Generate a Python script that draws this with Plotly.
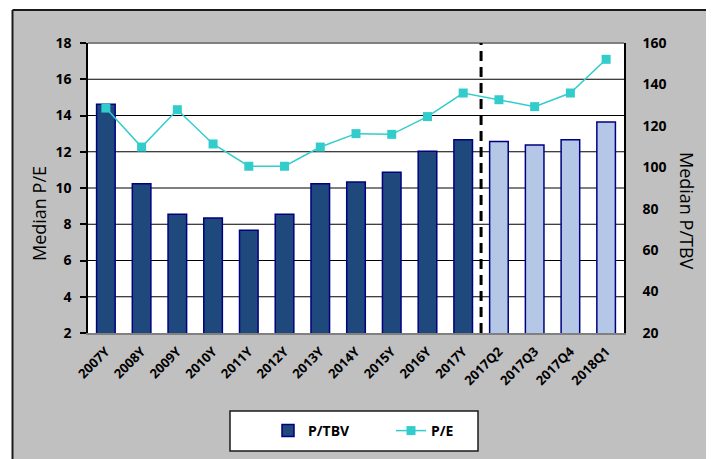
import plotly.graph_objects as go

categories = ["2007Y", "2008Y", "2009Y", "2010Y", "2011Y", "2012Y", "2013Y", "2014Y",
              "2015Y", "2016Y", "2017Y", "2017Q2", "2017Q3", "2017Q4", "2018Q1"]
p_tbv = [130.4, 92.1, 77.3, 75.5, 69.6, 77.3, 92.1, 92.9, 97.6, 107.7, 113.3, 112.4, 110.8, 113.3, 121.9]
p_e = [14.41, 12.26, 14.32, 12.43, 11.2, 11.2, 12.26, 13.0, 12.96, 13.94, 15.24, 14.87, 14.49, 15.24, 17.1]

left_range = [2, 18]
right_range = [20, 160]
left_ticks = [2, 4, 6, 8, 10, 12, 14, 16, 18]
right_ticks = [20, 40, 60, 80, 100, 120, 140, 160]

DARK = "#1F497D"
LIGHT = "#B4C7E7"
bar_colors = [LIGHT if "Q" in c else DARK for c in categories]

FONT = "Open Sans"

# category positions on a linear axis (labels come from the categories list)
x_idx = list(range(len(categories)))
x_range = [-0.5, len(categories) - 0.5]

fig = go.Figure()
# grid lines at the left (P/E) ticks, drawn on the main subplot beneath the bars
grid_x = []
grid_y = []
for v in left_ticks[1:-1]:
    grid_x += [x_range[0], x_range[1], None]
    grid_y += [v, v, None]
fig.add_trace(go.Scatter(
    x=grid_x, y=grid_y, xaxis="x", yaxis="y", mode="lines",
    line=dict(color="black", width=1.2), showlegend=False, hoverinfo="skip",
))
fig.add_trace(go.Bar(
    x=x_idx, y=p_tbv, name="P/TBV", xaxis="x", yaxis="y2",
    marker=dict(color=bar_colors, line=dict(color="#000080", width=1.5)),
    width=0.52, customdata=categories,
))
fig.add_trace(go.Scatter(
    x=x_idx, y=p_e, name="P/E", xaxis="x", yaxis="y3", mode="lines+markers",
    line=dict(color="#33CCCC", width=1.5),
    marker=dict(symbol="square", size=9, color="#33CCCC"),
    customdata=categories,
))

# page-pixel helpers (plot area spans page x 88..624, y 43..333)
def px_x(px):
    return (px - 88) / 536

def px_y(py):
    return (333 - py) / 290

WHITE = "white"
shapes = [
    # white strips outside the grey chart frame
    dict(type="rect", xref="paper", yref="paper", x0=px_x(-20), x1=px_x(12.5), y0=px_y(500), y1=px_y(-20),
         fillcolor=WHITE, line=dict(width=0), layer="above"),
    dict(type="rect", xref="paper", yref="paper", x0=px_x(709), x1=px_x(740), y0=px_y(500), y1=px_y(-20),
         fillcolor=WHITE, line=dict(width=0), layer="above"),
    dict(type="rect", xref="paper", yref="paper", x0=px_x(-20), x1=px_x(740), y0=px_y(10), y1=px_y(-20),
         fillcolor=WHITE, line=dict(width=0), layer="above"),
    # frame lines
    dict(type="line", xref="paper", yref="paper", x0=px_x(12.5), x1=px_x(12.5), y0=px_y(500), y1=px_y(10),
         line=dict(color="#1a1a1a", width=2), layer="above"),
    dict(type="line", xref="paper", yref="paper", x0=px_x(709), x1=px_x(709), y0=px_y(500), y1=px_y(10),
         line=dict(color="#1a1a1a", width=2), layer="above"),
    dict(type="line", xref="paper", yref="paper", x0=px_x(12.5), x1=px_x(709), y0=px_y(10), y1=px_y(10),
         line=dict(color="#1a1a1a", width=2), layer="above"),
    # legend box
    dict(type="rect", xref="paper", yref="paper", x0=px_x(230), x1=px_x(478), y0=px_y(451), y1=px_y(411),
         fillcolor=WHITE, line=dict(color="#1a1a1a", width=1.5), layer="above"),
    # top border of plot area
    dict(type="line", xref="paper", yref="paper", x0=0, x1=1, y0=1, y1=1,
         line=dict(color="#808080", width=2), layer="above"),
    # divider between annual and quarterly data
    dict(type="line", xref="x", yref="paper", x0=10.5, x1=10.5, y0=0, y1=1,
         line=dict(color="black", width=3, dash="10px,6px"), layer="above"),
]

annotations = [
    dict(text="Median P/E", xref="paper", yref="paper", x=px_x(39), y=px_y(214), showarrow=False,
         textangle=-90, font=dict(family=FONT, size=18, color="black"), xanchor="center", yanchor="middle"),
    dict(text="Median P/TBV", xref="paper", yref="paper", x=px_x(687), y=px_y(211), showarrow=False,
         textangle=90, font=dict(family=FONT, size=18, color="black"), xanchor="center", yanchor="middle"),
]

tick_font = dict(family=FONT, size=14, weight="bold")
fig.update_layout(
    width=714, height=459,
    margin=dict(l=80, r=98, t=35, b=134),
    paper_bgcolor="#C0C0C0", plot_bgcolor="white",
    font=dict(family=FONT, color="black"),
    showlegend=True,
    legend=dict(orientation="h", x=px_x(268), y=px_y(415), xanchor="left", yanchor="top",
                bgcolor="rgba(0,0,0,0)", borderwidth=0,
                font=dict(family=FONT, size=14, weight="bold"), entrywidth=78),
    xaxis=dict(type="linear", range=x_range, tickmode="array", tickvals=x_idx, ticktext=categories,
               tickangle=-45, tickfont=dict(family=FONT, size=13, weight="bold"),
               showline=True, linecolor="#808080", linewidth=1.5, ticks="", showgrid=False,
               zeroline=False, ticklabelstandoff=4),
    # main axis: left P/E scale
    yaxis=dict(side="left", range=left_range, tickvals=left_ticks, showgrid=False,
               showline=True, linecolor="black", linewidth=1.5,
               ticks="outside", ticklen=6, tickcolor="black", tickwidth=1.5,
               tickfont=tick_font, ticklabelstandoff=6, zeroline=False),
    # right P/TBV scale for the bars
    yaxis2=dict(side="right", overlaying="y", range=right_range, tickvals=right_ticks, showgrid=False,
                showline=True, linecolor="black", linewidth=1.5, ticks="",
                tickfont=tick_font, ticklabelstandoff=14, zeroline=False),
    # P/E line scale (same as left axis), drawn above the bars
    yaxis3=dict(side="left", overlaying="y", range=left_range, showgrid=False, showline=False,
                ticks="", showticklabels=False, zeroline=False),
    shapes=shapes,
    annotations=annotations,
)

fig.write_html("out.html")
